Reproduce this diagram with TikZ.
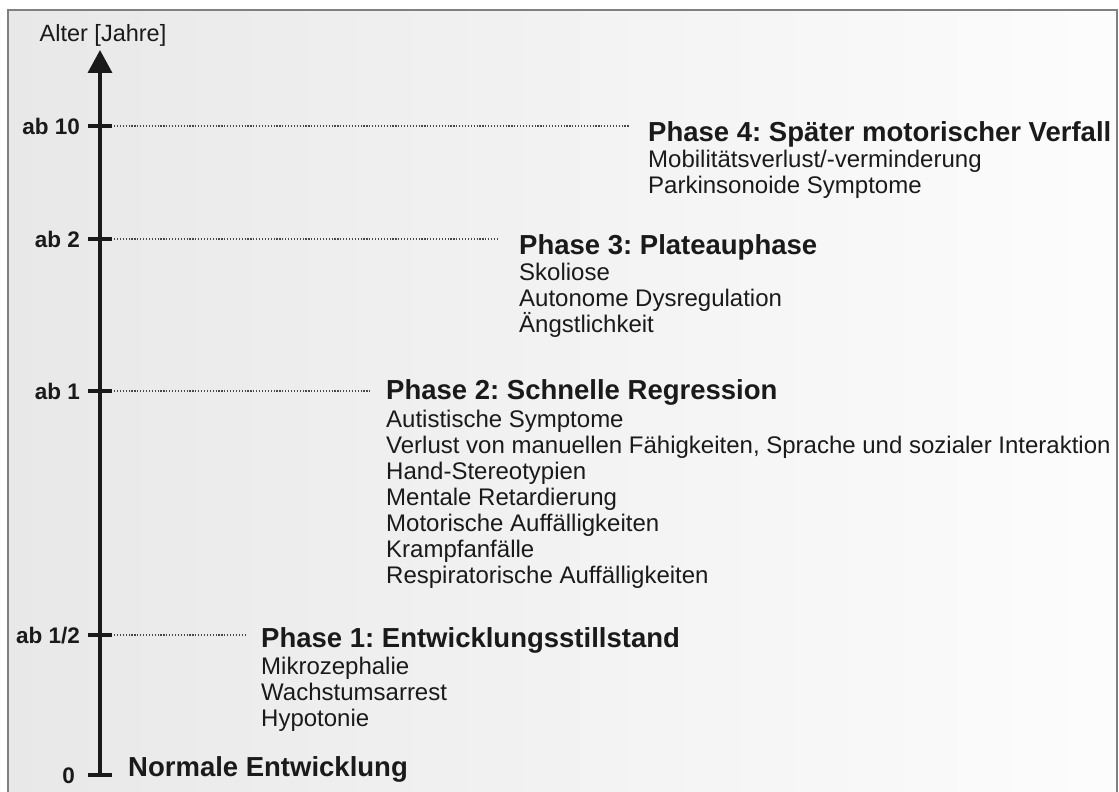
\documentclass[tikz,border=0pt]{standalone}
\usepackage{fontspec}
\setmainfont{Liberation Sans}
\usepackage{xcolor}
\usepackage{tikz}
\usetikzlibrary{arrows.meta}
\definecolor{ink}{HTML}{1A1A1A}
\definecolor{frame}{HTML}{808080}
\frenchspacing

\begin{document}
\begin{tikzpicture}[
  x=1pt, y=-1pt,
  tlab/.style={font=\fontsize{22.5}{24}\selectfont\bfseries, text=ink, anchor=base east, inner sep=0},
  head/.style={font=\fontsize{27.5}{30}\selectfont\bfseries, text=ink, anchor=base west, inner sep=0},
  items/.style={font=\fontsize{24}{26}\selectfont, text=ink, anchor=base west, align=left, inner sep=0},
  guide/.style={dash pattern=on 1.2pt off 1.7pt, line width=1.3pt, ink!80},
  tickmark/.style={line width=3.5pt, ink},
]
\useasboundingbox (0,0) rectangle (1119,792);
\clip (0,0) rectangle (1119,792);

% Background
\fill[white] (0,0) rectangle (1119,792);
\shade[left color=black!9, right color=black!1] (8,10) rectangle (1117,800);
\draw[line width=2pt, frame] (8,10) rectangle (1117,800);

% Axis
\coordinate (k0) at (100,775);
\coordinate (top) at (100,50);
\draw[line width=3.5pt, ink, -{Triangle[length=23pt, width=24pt]}] (k0) -- (top);
\node[font=\fontsize{23.5}{25}\selectfont, text=ink, anchor=base, inner sep=0] (alter) at (103,41.5) {Alter [Jahre]};

% Ticks
\coordinate (k10) at (100,126);
\coordinate (k2) at (100,239);
\coordinate (k1) at (100,391);
\coordinate (khalf) at (100,635);
\foreach \k in {k10,k2,k1,khalf,k0}
  \draw[tickmark] ([xshift=-12]\k) -- ([xshift=12]\k);

\node[tlab] (t10) at (80,134) {ab 10};
\node[tlab] (t2) at (80,247) {ab 2};
\node[tlab] (t1) at (80,399) {ab 1};
\node[tlab] (thalf) at (80,643) {ab 1/2};
\node[tlab] (t0) at (75,783) {0};

% Guide lines
\coordinate (e10) at (630,126);
\coordinate (e2) at (499,239);
\coordinate (e1) at (370,391);
\coordinate (ehalf) at (246,635);
\draw[guide] ([xshift=14]k10) -- (e10);
\draw[guide] ([xshift=14]k2) -- (e2);
\draw[guide] ([xshift=14]k1) -- (e1);
\draw[guide] ([xshift=14]khalf) -- (ehalf);

% Phases (item lists sit on the baseline of their last line)
\node[head] (ph4) at (648,141) {Phase 4: Später motorischer Verfall};
\node[items] (list4) at (648,193) {Mobilitätsverlust/-verminderung\\Parkinsonoide Symptome};

\node[head] (ph3) at (519,254) {Phase 3: Plateauphase};
\node[items] (list3) at (519,332) {Skoliose\\Autonome Dysregulation\\Ängstlichkeit};

\node[head] (ph2) at (386,399) {Phase 2: Schnelle Regression};
\node[items] (list2) at (386,583) {Autistische Symptome\\Verlust von manuellen Fähigkeiten, Sprache und sozialer Interaktion\\Hand-Stereotypien\\Mentale Retardierung\\Motorische Auffälligkeiten\\Krampfanfälle\\Respiratorische Auffälligkeiten};

\node[head] (ph1) at (261,647) {Phase 1: Entwicklungsstillstand};
\node[items] (list1) at (261,726) {Mikrozephalie\\Wachstumsarrest\\Hypotonie};

\node[head] (ph0) at (128,776) {Normale Entwicklung};

\end{tikzpicture}
\end{document}
